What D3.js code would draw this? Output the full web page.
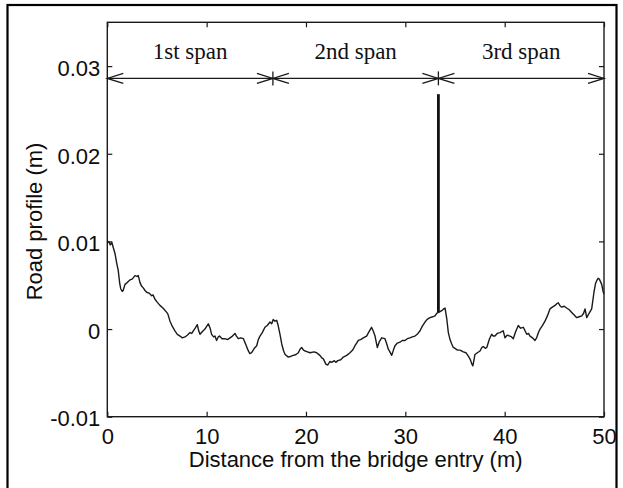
<!DOCTYPE html>
<html>
<head>
<meta charset="utf-8">
<script src="https://cdn.jsdelivr.net/npm/d3@7"></script>
<style>
  html, body { margin: 0; padding: 0; background: #fff; }
  svg { display: block; }
</style>
</head>
<body>
<div id="chart"></div>
<script>
// Road profile along the bridge (distance in m, elevation in m)
const distance = [
  0.0, 0.15, 0.3, 0.45, 0.6, 0.78, 0.95, 1.1, 1.25, 1.35, 1.5, 1.6, 1.78, 2.0, 2.28, 2.5, 2.79, 3.0, 3.12, 3.29,
  3.45, 3.62, 3.8, 3.96, 4.2, 4.47, 4.6, 4.8, 5.0, 5.3, 5.6, 5.98, 6.1, 6.31, 6.55, 6.81, 7.05, 7.32, 7.55, 7.82,
  8.05, 8.33, 8.5, 8.66, 8.85, 9.06, 9.2, 9.33, 9.55, 9.83, 10.0, 10.17, 10.35, 10.5, 10.7, 10.84, 11.0, 11.17, 11.3, 11.55,
  11.85, 12.1, 12.35, 12.6, 12.85, 13.0, 13.19, 13.45, 13.7, 13.95, 14.2, 14.35, 14.53, 14.8, 15.04, 15.2, 15.37, 15.6, 15.87, 16.1,
  16.38, 16.55, 16.7, 16.88, 17.05, 17.2, 17.4, 17.56, 17.75, 17.9, 18.22, 18.5, 18.72, 19.0, 19.23, 19.4, 19.57, 19.75, 19.9, 20.15,
  20.4, 20.8, 21.08, 21.4, 21.6, 21.75, 22.0, 22.2, 22.4, 22.6, 22.85, 23.0, 23.2, 23.5, 23.76, 24.1, 24.43, 24.7, 24.93, 25.1,
  25.27, 25.5, 25.77, 26.1, 26.35, 26.6, 26.8, 26.95, 27.18, 27.4, 27.62, 27.95, 28.1, 28.29, 28.45, 28.63, 28.8, 28.96, 29.2, 29.46,
  29.7, 29.97, 30.2, 30.47, 30.7, 30.97, 31.2, 31.48, 31.7, 31.98, 32.2, 32.48, 32.75, 32.99, 33.15, 33.33, 33.5, 33.66, 33.85, 34.0,
  34.17, 34.33, 34.5, 34.67, 34.83, 35.0, 35.25, 35.5, 35.84, 36.1, 36.34, 36.55, 36.7, 36.8, 36.9, 37.01, 37.25, 37.52, 37.7, 37.85,
  38.05, 38.2, 38.45, 38.69, 38.85, 39.02, 39.25, 39.53, 39.7, 39.86, 40.03, 40.25, 40.53, 40.7, 40.87, 41.1, 41.37, 41.6, 41.88, 42.05,
  42.22, 42.4, 42.55, 42.8, 43.05, 43.22, 43.4, 43.56, 43.8, 44.06, 44.3, 44.56, 44.8, 45.07, 45.25, 45.4, 45.55, 45.74, 46.0, 46.24,
  46.5, 46.75, 47.0, 47.25, 47.5, 47.76, 47.95, 48.09, 48.26, 48.5, 48.76, 48.99, 49.15, 49.26, 49.4, 49.53, 49.77, 49.93, 50.0
];
const profile = [
  0.0098, 0.0100, 0.0096, 0.0099, 0.0093, 0.0086, 0.0075, 0.0067, 0.0052, 0.0046, 0.0043, 0.0044, 0.0051, 0.0053, 0.0056, 0.0057, 0.0061, 0.0060, 0.0061, 0.0053,
  0.0049, 0.0047, 0.0044, 0.0042, 0.0041, 0.0038, 0.0039, 0.0034, 0.0031, 0.0027, 0.0024, 0.0019, 0.0017, 0.0009, 0.0003, -0.0002, -0.0006, -0.0008, -0.0010, -0.0009,
  -0.0007, -0.0004, -0.0005, -0.0002, 0.0001, 0.0005, -0.0002, -0.0006, -0.0003, 0.0000, 0.0003, 0.0006, 0.0001, -0.0006, -0.0009, -0.0008, -0.0013, -0.0009, -0.0008, -0.0011,
  -0.0011, -0.0012, -0.0010, -0.0008, -0.0005, -0.0008, -0.0011, -0.0010, -0.0011, -0.0018, -0.0025, -0.0028, -0.0027, -0.0022, -0.0019, -0.0012, -0.0008, -0.0004, 0.0002, 0.0004,
  0.0008, 0.0006, 0.0011, 0.0009, 0.0010, 0.0004, -0.0007, -0.0017, -0.0025, -0.0029, -0.0032, -0.0031, -0.0030, -0.0029, -0.0027, -0.0023, -0.0021, -0.0024, -0.0025, -0.0026,
  -0.0027, -0.0026, -0.0027, -0.0030, -0.0033, -0.0034, -0.0040, -0.0041, -0.0037, -0.0038, -0.0036, -0.0038, -0.0036, -0.0035, -0.0032, -0.0030, -0.0027, -0.0024, -0.0019, -0.0016,
  -0.0013, -0.0012, -0.0010, -0.0008, -0.0003, 0.0002, -0.0003, -0.0008, -0.0021, -0.0014, -0.0010, -0.0011, -0.0016, -0.0023, -0.0026, -0.0030, -0.0024, -0.0019, -0.0016, -0.0015,
  -0.0013, -0.0013, -0.0011, -0.0010, -0.0009, -0.0008, -0.0006, -0.0002, 0.0003, 0.0008, 0.0011, 0.0013, 0.0014, 0.0015, 0.0018, 0.0019, 0.0020, 0.0021, 0.0023, 0.0024,
  0.0012, -0.0004, -0.0012, -0.0017, -0.0021, -0.0022, -0.0024, -0.0024, -0.0026, -0.0027, -0.0031, -0.0035, -0.0040, -0.0042, -0.0036, -0.0029, -0.0027, -0.0025, -0.0021, -0.0020,
  -0.0022, -0.0021, -0.0012, -0.0006, -0.0008, -0.0008, -0.0005, -0.0004, -0.0003, -0.0002, -0.0010, -0.0007, -0.0008, -0.0009, -0.0011, -0.0003, 0.0004, 0.0001, 0.0002, -0.0002,
  -0.0006, -0.0005, -0.0008, -0.0010, -0.0013, -0.0010, -0.0004, 0.0000, 0.0004, 0.0009, 0.0015, 0.0023, 0.0025, 0.0027, 0.0029, 0.0030, 0.0027, 0.0025, 0.0026, 0.0024,
  0.0022, 0.0019, 0.0016, 0.0013, 0.0014, 0.0015, 0.0018, 0.0023, 0.0013, 0.0018, 0.0023, 0.0042, 0.0052, 0.0055, 0.0058, 0.0057, 0.0051, 0.0042, 0.0040
];

// Bump at the second pier: position and vertical extent
const spikeDistance = 33.33;
const spikeRange = [0.0019, 0.0268];

// Bridge spans and their dimension arrows
const spanNames = ["1st span", "2nd span", "3rd span"];
const spanBounds = [0, 16.67, 33.33, 50];
const arrowLevel = 0.0286;

// Axis ticks
const xTicks = [0, 10, 20, 30, 40, 50];
const yTicks = [-0.01, 0, 0.01, 0.02, 0.03];
const yTickLabels = ["-0.01", "0", "0.01", "0.02", "0.03"];

const W = 623, H = 488;
const plot = { left: 107.3, right: 604, top: 22.3, bottom: 416.7 };
const ink = "#1a1a1a";

const svg = d3.select("#chart").append("svg")
  .attr("width", W).attr("height", H)
  .style("font-family", "'Liberation Sans', Arial, sans-serif");

// Outer figure frame
svg.append("rect")
  .attr("x", 7.5).attr("y", 5).attr("width", 609).attr("height", 520)
  .attr("fill", "none").attr("stroke", "#000").attr("stroke-width", 2.2);

const x = d3.scaleLinear().domain([0, 50]).range([plot.left, plot.right]);
const y = d3.scaleLinear().domain([-0.01, 0.035]).range([plot.bottom, plot.top]);

// Axes with inward ticks on all four sides
function styleAxis(g) {
  g.select(".domain").remove();
  g.selectAll(".tick line").attr("stroke", ink).attr("stroke-width", 1.2);
  g.selectAll(".tick text").attr("fill", "#0d0d0d").style("font-size", "22px");
}

svg.append("g")
  .attr("transform", `translate(0,${plot.bottom})`)
  .call(d3.axisBottom(x).tickValues(xTicks).tickSize(-5).tickPadding(12).tickFormat(d3.format("d")))
  .call(styleAxis)
  .call(g => g.selectAll(".tick text").attr("dy", "0.71em"));

svg.append("g")
  .attr("transform", `translate(0,${plot.top})`)
  .call(d3.axisTop(x).tickValues(xTicks).tickSize(-5).tickFormat(""))
  .call(styleAxis);

svg.append("g")
  .attr("transform", `translate(${plot.left},0)`)
  .call(d3.axisLeft(y).tickValues(yTicks).tickSize(-5).tickPadding(7)
    .tickFormat((d, i) => yTickLabels[i]))
  .call(styleAxis)
  .call(g => g.selectAll(".tick text").attr("dy", "0.42em"));

svg.append("g")
  .attr("transform", `translate(${plot.right},0)`)
  .call(d3.axisRight(y).tickValues(yTicks).tickSize(-5).tickFormat(""))
  .call(styleAxis);

// Plot box
svg.append("rect")
  .attr("x", plot.left).attr("y", plot.top)
  .attr("width", plot.right - plot.left).attr("height", plot.bottom - plot.top)
  .attr("fill", "none").attr("stroke", ink).attr("stroke-width", 1.4);

// Road profile
const line = d3.line().x(d => x(d[0])).y(d => y(d[1]));
svg.append("path")
  .datum(distance.map((d, i) => [d, profile[i]]))
  .attr("d", line)
  .attr("fill", "none")
  .attr("stroke", "#1a1a1a")
  .attr("stroke-width", 1.4)
  .attr("stroke-linejoin", "round");

// Spike at the pier
svg.append("line")
  .attr("x1", x(spikeDistance)).attr("x2", x(spikeDistance))
  .attr("y1", y(spikeRange[0])).attr("y2", y(spikeRange[1]))
  .attr("stroke", "#111").attr("stroke-width", 2.8);

// Span dimension arrows
const ay = y(arrowLevel);
const headLen = 16, headHalf = 5;
const arrows = svg.append("g").attr("stroke", ink).attr("fill", "none").attr("stroke-width", 1.3);
for (let i = 0; i < spanNames.length; i++) {
  const x0 = x(spanBounds[i]), x1 = x(spanBounds[i + 1]);
  arrows.append("line").attr("x1", x0).attr("x2", x1).attr("y1", ay).attr("y2", ay);
  arrows.append("path").attr("d", `M${x0 + headLen},${ay - headHalf}L${x0},${ay}L${x0 + headLen},${ay + headHalf}`);
  arrows.append("path").attr("d", `M${x1 - headLen},${ay - headHalf}L${x1},${ay}L${x1 - headLen},${ay + headHalf}`);
}
// Marks at the inner span boundaries
spanBounds.slice(1, -1).forEach(b => {
  arrows.append("line")
    .attr("x1", x(b)).attr("x2", x(b))
    .attr("y1", ay - 7).attr("y2", ay + 7);
});

// Span names
svg.append("g").selectAll("text")
  .data(spanNames)
  .join("text")
  .attr("x", (d, i) => x((spanBounds[i] + spanBounds[i + 1]) / 2))
  .attr("y", ay - 19)
  .attr("text-anchor", "middle")
  .style("font-family", "'Liberation Serif', 'Times New Roman', serif")
  .style("font-size", "23px")
  .attr("fill", "#111")
  .text(d => d);

// Axis titles
svg.append("text")
  .attr("x", (plot.left + plot.right) / 2)
  .attr("y", 467)
  .attr("text-anchor", "middle")
  .style("font-size", "22px")
  .attr("fill", "#0d0d0d")
  .text("Distance from the bridge entry (m)");

svg.append("text")
  .attr("transform", `translate(42,${(plot.top + plot.bottom) / 2 + 2}) rotate(-90)`)
  .attr("text-anchor", "middle")
  .style("font-size", "22px")
  .attr("fill", "#0d0d0d")
  .text("Road profile (m)");
</script>
</body>
</html>
